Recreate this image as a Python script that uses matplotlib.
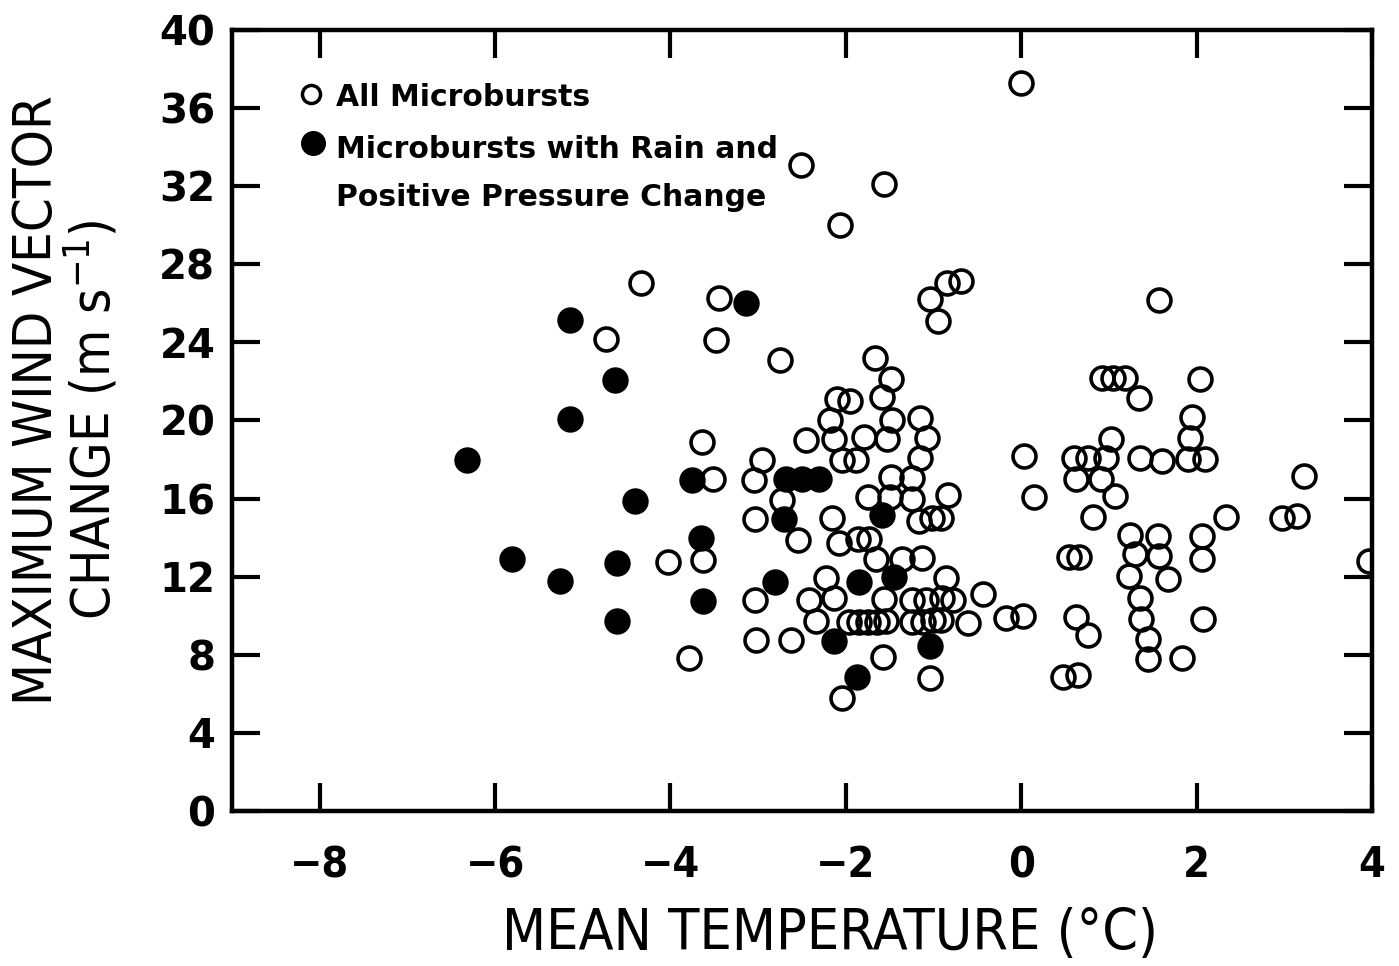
import matplotlib
matplotlib.use("Agg")
import matplotlib.pyplot as plt
from matplotlib import font_manager as fm

# ---------------- data ----------------
all_x = [0.00, -2.51, -1.57, -2.07, -4.34, -0.69, -0.85, -1.04, -0.95, -3.45,
         1.57, -4.74, -3.48, -2.75, -1.67, -1.48, -1.59, -2.10, -1.95, -2.18,
         -1.47, -1.15, -2.45, -2.14, -1.79, -1.53, -1.07, -2.04, -1.88, -1.16,
         -1.48, -1.24, -1.75, -1.50, -1.25, -0.84, -2.16, -1.17, -1.02, -0.91,
         -2.54, -2.08, -1.86, -1.74, -1.66, -1.36, -1.13, -2.23, -0.86, -2.42,
         -2.13, -1.56, -1.24, -1.09, -0.90, -0.78, -0.44, -2.34, -1.96, -1.85,
         -1.75, -1.65, -1.54, -1.24, -1.12, -1.01, -0.91, -0.61, -0.17, 0.02,
         -2.62, -3.03, -1.58, -1.04, -2.04, -3.79, 0.03, 0.15, -3.64, -2.96,
         -3.51, -3.05, -2.73, -3.04, -3.63, -4.03, -3.04, 0.92, 1.05, 1.18,
         1.34, 2.04, 1.95, 1.93, 1.90, 2.09, 0.60, 0.76, 0.97, 1.02,
         1.35, 1.61, 0.63, 0.91, 1.07, 0.82, 3.23, 2.34, 2.97, 3.14,
         1.24, 1.56, 2.06, 1.30, 1.57, 2.06, 1.23, 1.67, 0.54, 0.66,
         3.97, 1.35, 1.37, 1.45, 1.45, 1.83, 2.07, 0.63, 0.76, 0.48,
         0.65]
all_y = [37.3, 33.1, 32.1, 30.0, 27.05, 27.15, 27.05, 26.2, 25.1, 26.25,
         26.15, 24.15, 24.1, 23.1, 23.2, 22.15, 21.2, 21.1, 21.0, 20.0,
         20.0, 20.15, 19.0, 19.05, 19.15, 19.07, 19.1, 18.0, 18.0, 18.07,
         17.1, 17.05, 16.07, 16.08, 16.0, 16.2, 15.03, 14.85, 15.0, 15.0,
         13.9, 13.75, 13.93, 13.93, 12.9, 12.93, 12.94, 11.95, 11.92, 10.83,
         10.93, 10.87, 10.8, 10.8, 10.9, 10.82, 11.1, 9.72, 9.66, 9.67,
         9.67, 9.7, 9.71, 9.69, 9.7, 9.78, 9.78, 9.63, 9.9, 10.0,
         8.77, 8.78, 7.88, 6.83, 5.8, 7.82, 18.2, 16.08, 18.9, 18.0,
         17.0, 16.95, 15.94, 14.98, 12.86, 12.76, 10.8, 22.2, 22.2, 22.2,
         21.17, 22.1, 20.17, 19.1, 18.05, 18.05, 18.06, 18.06, 18.07, 19.03,
         18.1, 17.94, 17.0, 17.0, 16.12, 15.08, 17.16, 15.07, 15.0, 15.1,
         14.16, 14.09, 14.11, 13.14, 13.07, 12.92, 12.03, 11.88, 13.02, 13.02,
         12.8, 10.92, 9.81, 8.79, 7.76, 7.86, 9.84, 9.95, 9.02, 6.87,
         6.96]

rain_x = [-3.14, -5.15, -4.63, -5.14, -6.32, -3.75, -2.68, -2.50, -2.31, -4.41,
          -2.71, -1.59, -3.65, -5.81, -4.61, -5.26, -2.81, -1.85, -1.45, -3.63,
          -4.61, -2.13, -1.04, -1.87]
rain_y = [26.0, 25.17, 22.07, 20.1, 18.0, 16.95, 17.0, 17.0, 17.0, 15.9,
          14.95, 15.14, 14.0, 12.92, 12.72, 11.8, 11.74, 11.71, 11.98, 10.73,
          9.75, 8.7, 8.47, 6.84]

x_ticks = [-8, -6, -4, -2, 0, 2, 4]
y_ticks = [0, 4, 8, 12, 16, 20, 24, 28, 32, 36, 40]
x_tick_labels = ["\u22128", "\u22126", "\u22124", "\u22122", "0", "2", "4"]

legend_labels = ["All Microbursts", "Microbursts with Rain and", "Positive Pressure Change"]
x_label = "MEAN TEMPERATURE (\u00b0C)"
y_label_1 = "MAXIMUM WIND VECTOR"
y_label_2 = "CHANGE (m s$^{\\mathregular{-1}}$)"

# ---------------- fonts ----------------
names = {f.name for f in fm.fontManager.ttflist}
if "Liberation Sans Narrow" in names:
    narrow = dict(family="Liberation Sans Narrow")
else:
    narrow = dict(family="DejaVu Sans", stretch="condensed")
plt.rcParams["mathtext.fontset"] = "custom"
plt.rcParams["mathtext.rm"] = narrow["family"]
plt.rcParams["mathtext.default"] = "regular"

# ---------------- figure ----------------
W, H = 1399, 966
fig = plt.figure(figsize=(W / 100, H / 100), dpi=100)
ax = fig.add_axes([232 / W, 1 - 811 / H, (1372 - 232) / W, (811 - 30) / H])

ax.set_xlim(-9, 4)
ax.set_ylim(0, 40)

ax.plot(all_x, all_y, linestyle="none", marker="o", ms=16.5, mew=2.6,
        mfc="none", mec="black", zorder=3, clip_on=True)
ax.plot(rain_x, rain_y, linestyle="none", marker="o", ms=17.5, mew=1.5,
        mfc="black", mec="black", zorder=4, clip_on=True)

for s in ax.spines.values():
    s.set_linewidth(3.2)

ax.set_xticks(x_ticks)
ax.set_xticklabels(x_tick_labels)
ax.set_yticks(y_ticks)
ax.tick_params(axis="both", direction="in", length=20, width=3,
               top=True, right=True)
ax.tick_params(axis="x", pad=24)
ax.tick_params(axis="y", pad=12)
for lab in ax.get_xticklabels():
    lab.set_fontfamily(narrow["family"])
    if "stretch" in narrow:
        lab.set_fontstretch(narrow["stretch"])
    lab.set_fontweight("bold")
    lab.set_fontsize(31)
for lab in ax.get_yticklabels():
    lab.set_fontfamily("DejaVu Sans")
    lab.set_fontweight("bold")
    lab.set_fontsize(29)

# axis labels
fig.text(830 / W, 1 - 935 / H, x_label, ha="center", va="center",
         fontsize=41, **narrow)
fig.text(37 / W, 1 - 400 / H, y_label_1, ha="center", va="center",
         rotation=90, fontsize=39, **narrow)
fig.text(93 / W, 1 - 420 / H, y_label_2, ha="center", va="center",
         rotation=90, fontsize=39, **narrow)

# legend (drawn manually in axes coordinates)
def fx(px):
    return (px - 232) / (1372 - 232)

def fy(py):
    return (811 - py) / (811 - 30)

ax.plot([fx(311)], [fy(94)], transform=ax.transAxes, marker="o", ms=13,
        mew=2.5, mfc="none", mec="black", linestyle="none")
ax.plot([fx(313)], [fy(143)], transform=ax.transAxes, marker="o", ms=17,
        mew=1, mfc="black", mec="black", linestyle="none")
leg_font = dict(family="DejaVu Sans", weight="bold", fontsize=21.5)
ax.text(fx(336), fy(97), legend_labels[0], transform=ax.transAxes,
        ha="left", va="center", **leg_font)
ax.text(fx(336), fy(149), legend_labels[1], transform=ax.transAxes,
        ha="left", va="center", **leg_font)
ax.text(fx(336), fy(197), legend_labels[2], transform=ax.transAxes,
        ha="left", va="center", **leg_font)

fig.savefig("out.png", dpi=100, facecolor="white")
